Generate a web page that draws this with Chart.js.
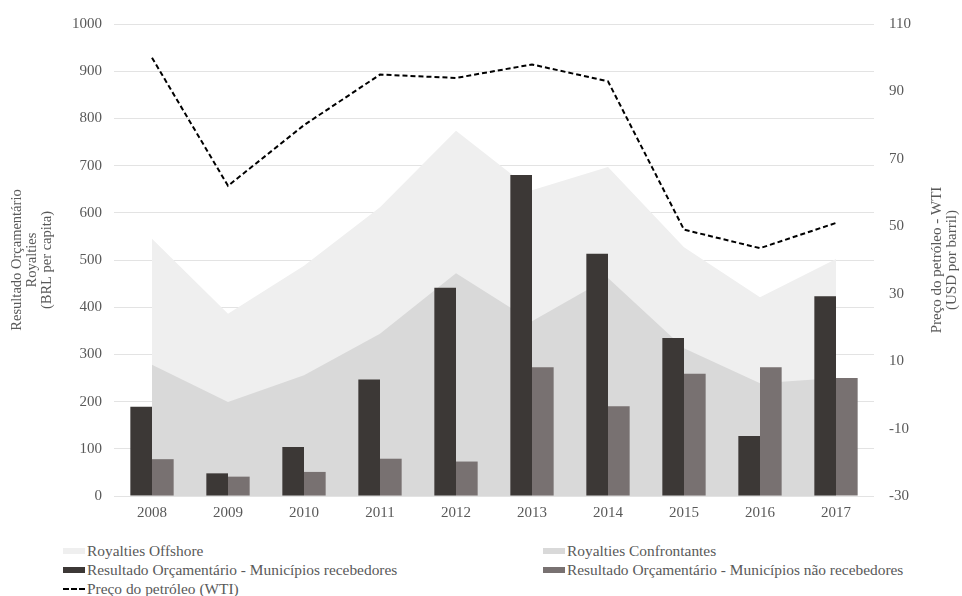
<!DOCTYPE html>
<html>
<head>
<meta charset="utf-8">
<script src="https://cdn.jsdelivr.net/npm/chart.js@4"></script>
<style>
  body { margin: 0; background: #fff; }
  #wrap { position: relative; width: 962px; height: 596px; font-family: "Liberation Serif", serif; }
  #chart { position: absolute; left: 0; top: 0; }
  .leg { position: absolute; height: 19px; display: flex; align-items: center; white-space: nowrap;
         font-size: 15.4px; color: #595959; }
  .leg .sw { width: 22px; height: 6px; margin-right: 2px; }
  .leg svg { margin-right: 2px; }
</style>
</head>
<body>
<div id="wrap">
  <canvas id="chart" width="962" height="530"></canvas>
  <div id="legend"></div>
</div>
<script>
// categorias e séries
const years = ['2008', '2009', '2010', '2011', '2012', '2013', '2014', '2015', '2016', '2017'];
const royaltiesOffshore = [545, 386, 488, 612, 774, 648, 697, 527, 421, 502];
const royaltiesConfrontantes = [278, 199, 256, 344, 472, 370, 462, 313, 239, 250];
const resultadoRecebedores = [189, 48, 104, 247, 441, 680, 513, 335, 127, 423];
const resultadoNaoRecebedores = [78, 41, 51, 79, 73, 273, 190, 259, 273, 250];
const precoWTI = [100, 62, 80, 95, 94, 98, 93, 49, 43.5, 51];

const leftAxisTitle = ['Resultado Orçamentário', 'Royalties', '(BRL per capita)'];
const rightAxisTitle = ['Preço do petróleo - WTI', '(USD por barril)'];

const textColor = '#595959';
const fontFamily = '"Liberation Serif", serif';
const colOffshore = '#efefef';
const colConfront = '#d9d9d9';
const colReceb = '#3c3836';
const colNaoReceb = '#787171';

// título do eixo direito, lido de baixo para cima como o da esquerda
const rightTitle = {
  id: 'rightTitle',
  afterDraw(chart) {
    const s = chart.scales.y2;
    const c = chart.ctx;
    const cy = (s.top + s.bottom) / 2;
    c.save();
    c.fillStyle = textColor;
    c.font = '15px ' + fontFamily;
    c.textAlign = 'center';
    c.textBaseline = 'middle';
    rightAxisTitle.forEach((line, i) => {
      c.save();
      c.translate(s.left + 63 + i * 15, cy);
      c.rotate(-Math.PI / 2);
      c.fillText(line, 0, 0);
      c.restore();
    });
    c.restore();
  }
};

const ctx = document.getElementById('chart').getContext('2d');

new Chart(ctx, {
  type: 'bar',
  data: {
    labels: years,
    datasets: [
      {
        type: 'line',
        label: 'Preço do petróleo (WTI)',
        data: precoWTI,
        yAxisID: 'y2',
        borderColor: '#000',
        borderWidth: 2,
        borderDash: [5, 3],
        pointRadius: 0,
        fill: false,
        tension: 0,
        order: 0
      },
      {
        label: 'Resultado Orçamentário - Municípios recebedores',
        data: resultadoRecebedores,
        yAxisID: 'y',
        backgroundColor: colReceb,
        categoryPercentage: 0.57,
        barPercentage: 1,
        order: 1
      },
      {
        label: 'Resultado Orçamentário - Municípios não recebedores',
        data: resultadoNaoRecebedores,
        yAxisID: 'y',
        backgroundColor: colNaoReceb,
        categoryPercentage: 0.57,
        barPercentage: 1,
        order: 1
      },
      {
        type: 'line',
        label: 'Royalties Confrontantes',
        data: royaltiesConfrontantes,
        yAxisID: 'y',
        backgroundColor: colConfront,
        borderColor: colConfront,
        borderWidth: 0,
        pointRadius: 0,
        fill: 'origin',
        tension: 0,
        order: 2
      },
      {
        type: 'line',
        label: 'Royalties Offshore',
        data: royaltiesOffshore,
        yAxisID: 'y',
        backgroundColor: colOffshore,
        borderColor: colOffshore,
        borderWidth: 0,
        pointRadius: 0,
        fill: 'origin',
        tension: 0,
        order: 3
      }
    ]
  },
  options: {
    responsive: false,
    animation: false,
    layout: { padding: { top: 23, left: 0, right: 0, bottom: 0 } },
    plugins: {
      legend: { display: false },
      tooltip: { enabled: false }
    },
    scales: {
      x: {
        grid: { display: false, drawTicks: false },
        border: { display: false },
        ticks: { color: textColor, font: { family: fontFamily, size: 15 }, padding: 8 },
        afterFit: s => { s.height = 34; }
      },
      y: {
        position: 'left',
        min: 0,
        max: 1000,
        ticks: {
          stepSize: 100,
          color: textColor,
          font: { family: fontFamily, size: 15 },
          padding: 12,
          callback: v => String(v)
        },
        grid: { color: '#e3e3e3', drawTicks: false },
        border: { display: false },
        title: {
          display: true,
          text: leftAxisTitle,
          color: textColor,
          font: { family: fontFamily, size: 14.5, lineHeight: 1.02 },
          padding: { top: 10, bottom: 0 }
        },
        afterFit: s => { s.width = 114; }
      },
      y2: {
        position: 'right',
        min: -30,
        max: 110,
        ticks: { stepSize: 20, color: textColor, font: { family: fontFamily, size: 15 }, padding: 15 },
        grid: { display: false, drawTicks: false },
        border: { display: false },
        afterFit: s => { s.width = 88; }
      }
    }
  },
  plugins: [rightTitle]
});

// legenda em duas colunas, como no original
const legendItems = [
  { text: 'Royalties Offshore', color: colOffshore, x: 63, y: 551 },
  { text: 'Royalties Confrontantes', color: colConfront, x: 543, y: 551 },
  { text: 'Resultado Orçamentário - Municípios recebedores', color: colReceb, x: 63, y: 570 },
  { text: 'Resultado Orçamentário - Municípios não recebedores', color: colNaoReceb, x: 543, y: 570 },
  { text: 'Preço do petróleo (WTI)', dash: true, x: 63, y: 589 }
];

const legend = document.getElementById('legend');
legendItems.forEach(item => {
  const el = document.createElement('div');
  el.className = 'leg';
  el.style.left = item.x + 'px';
  el.style.top = (item.y - 9.5) + 'px';
  if (item.dash) {
    el.innerHTML = '<svg width="22" height="6"><line x1="0" y1="3" x2="22" y2="3" stroke="#000" stroke-width="2" stroke-dasharray="6,2"/></svg>';
  } else {
    el.innerHTML = `<span class="sw" style="background:${item.color}"></span>`;
  }
  const t = document.createElement('span');
  t.textContent = item.text;
  el.appendChild(t);
  legend.appendChild(el);
});
</script>
</body>
</html>
